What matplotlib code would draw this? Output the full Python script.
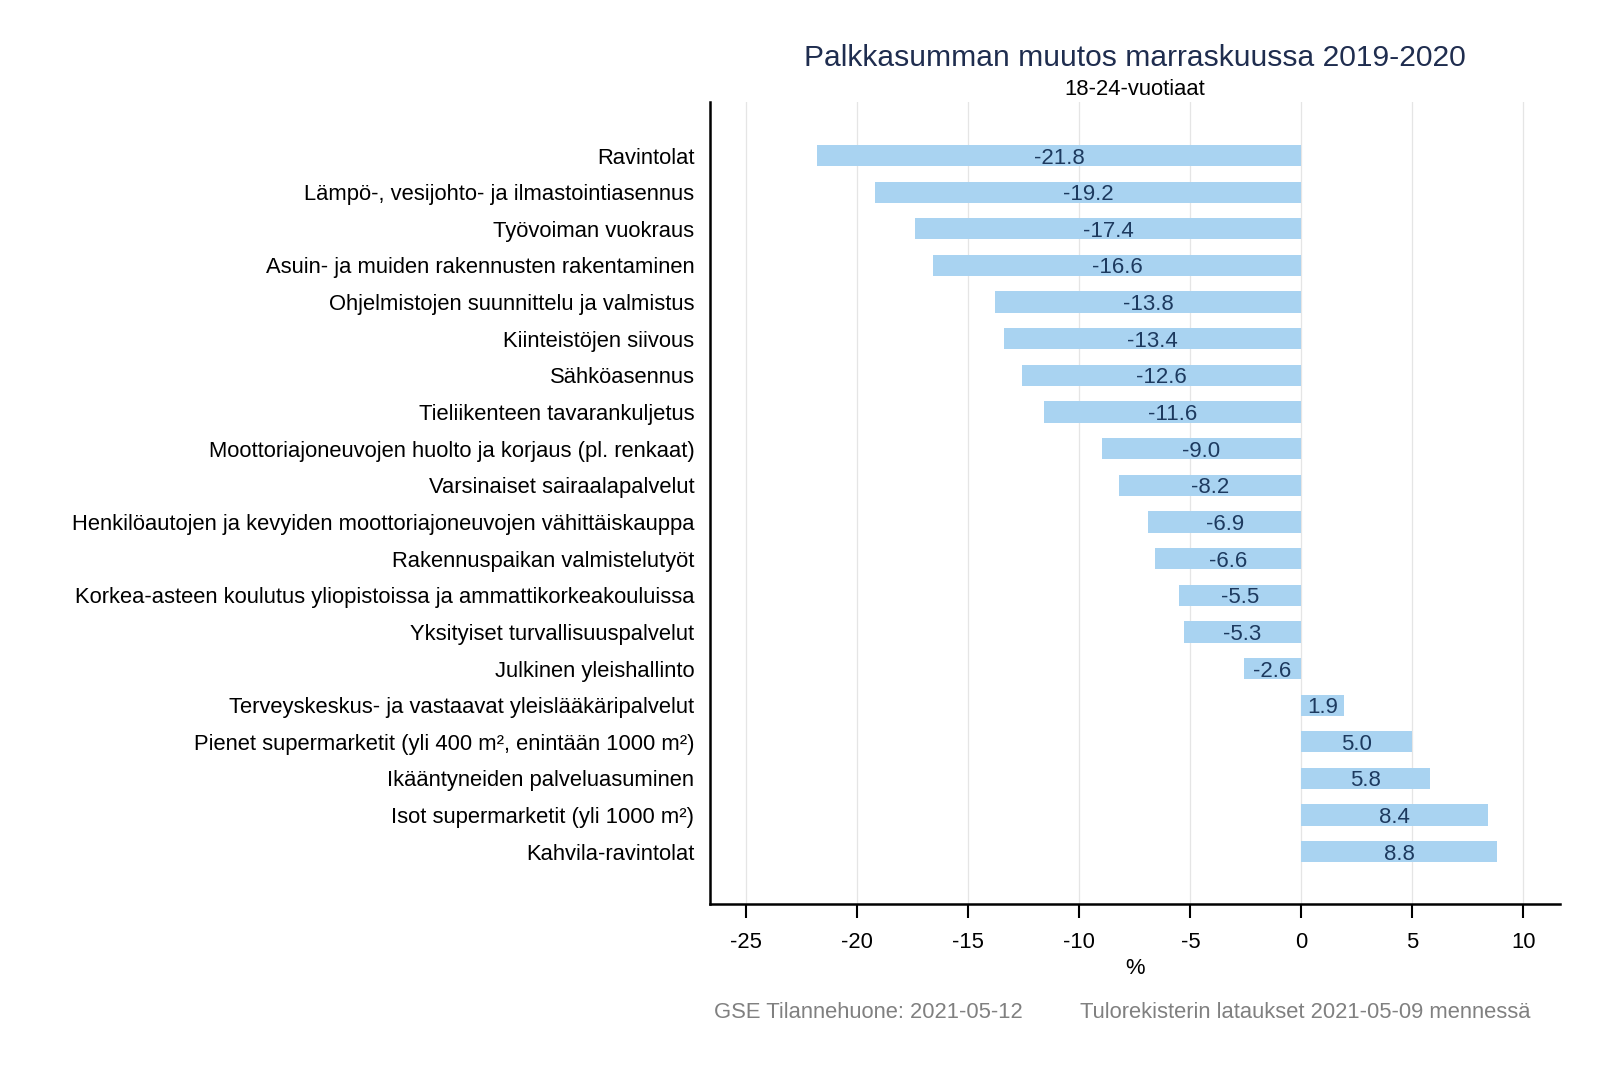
import matplotlib
matplotlib.use("Agg")
import matplotlib.pyplot as plt

plt.rcParams['font.family'] = ['Liberation Sans', 'DejaVu Sans']

categories = [
    "Ravintolat",
    "Lämpö-, vesijohto- ja ilmastointiasennus",
    "Työvoiman vuokraus",
    "Asuin- ja muiden rakennusten rakentaminen",
    "Ohjelmistojen suunnittelu ja valmistus",
    "Kiinteistöjen siivous",
    "Sähköasennus",
    "Tieliikenteen tavarankuljetus",
    "Moottoriajoneuvojen huolto ja korjaus (pl. renkaat)",
    "Varsinaiset sairaalapalvelut",
    "Henkilöautojen ja kevyiden moottoriajoneuvojen vähittäiskauppa",
    "Rakennuspaikan valmistelutyöt",
    "Korkea-asteen koulutus yliopistoissa ja ammattikorkeakouluissa",
    "Yksityiset turvallisuuspalvelut",
    "Julkinen yleishallinto",
    "Terveyskeskus- ja vastaavat yleislääkäripalvelut",
    "Pienet supermarketit (yli 400 m², enintään 1000 m²)",
    "Ikääntyneiden palveluasuminen",
    "Isot supermarketit (yli 1000 m²)",
    "Kahvila-ravintolat",
]
values = [-21.8, -19.2, -17.4, -16.6, -13.8, -13.4, -12.6, -11.6, -9.0, -8.2,
          -6.9, -6.6, -5.5, -5.3, -2.6, 1.9, 5.0, 5.8, 8.4, 8.8]
xticks = [-25, -20, -15, -10, -5, 0, 5, 10]

title = "Palkkasumman muutos marraskuussa 2019-2020"
subtitle = "18-24-vuotiaat"
xlabel = "%"
footer_left = "GSE Tilannehuone: 2021-05-12"
footer_right = "Tulorekisterin lataukset 2021-05-09 mennessä"

fig = plt.figure(figsize=(16, 10.67), dpi=100)
ax = fig.add_axes([0.4436, 0.153, 0.5314, 0.751])

bar_color = "#a9d3f1"
text_color = "#1d3a5f"
fs = 15.8
ypos = list(range(len(categories)))
ax.barh(ypos, values, height=0.58, color=bar_color, zorder=2)
for y, v in zip(ypos, values):
    ax.text(v / 2, y, f"{v:.1f}", ha="center", va="center_baseline", fontsize=16,
            color=text_color, zorder=3)

ax.set_ylim(20.42, -1.45)
ax.set_xlim(-26.65, 11.65)
ax.set_yticks(ypos)
ax.set_yticklabels(categories, fontsize=fs, color="black")
ax.tick_params(axis="y", length=0, pad=11)
ax.set_xticks(xticks)
ax.set_xticklabels([str(t) for t in xticks], fontsize=fs)
ax.tick_params(axis="x", length=10, width=1.5, pad=10, direction="out")
ax.grid(axis="x", color="#e5e5e5", linewidth=0.9, zorder=0)
ax.set_axisbelow(True)
for s in ["top", "right"]:
    ax.spines[s].set_visible(False)
for s in ["left", "bottom"]:
    ax.spines[s].set_linewidth(1.8)
    ax.spines[s].set_color("black")
ax.set_xlabel(xlabel, fontsize=fs, labelpad=4)

fig.text(0.709, 0.946, title, ha="center", va="center", fontsize=21.6, color="#1f2d4f")
fig.text(0.709, 0.916, subtitle, ha="center", va="center", fontsize=fs, color="black")
fig.text(0.4464, 0.051, footer_left, ha="left", va="center", fontsize=fs, color="#808080")
fig.text(0.9566, 0.051, footer_right, ha="right", va="center", fontsize=fs, color="#808080")

fig.savefig("out.png", dpi=100, facecolor="white")
